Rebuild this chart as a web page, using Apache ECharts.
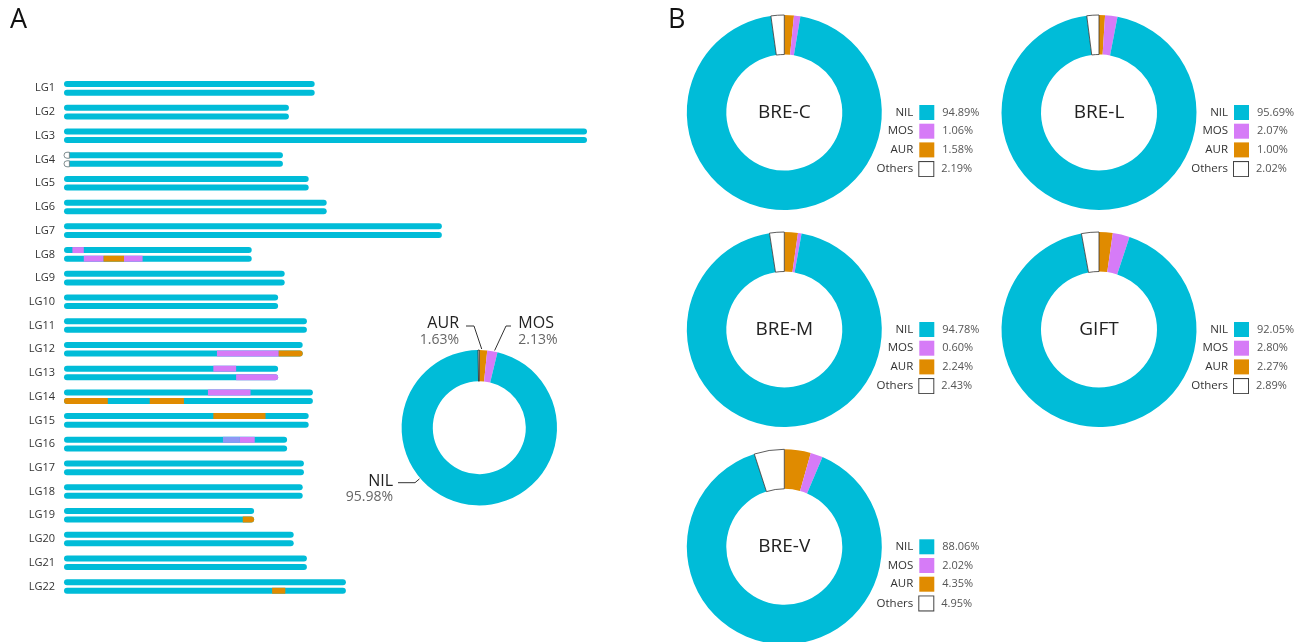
<!DOCTYPE html>
<html><head><meta charset="utf-8">
<script src="https://cdn.jsdelivr.net/npm/echarts@6/dist/echarts.min.js"></script>
<style>html,body{margin:0;padding:0;background:#fff}#c{width:1309px;height:642px}</style>
</head><body><div id="c"></div><script>
// ---------- data ----------
const lgNames = ['LG1','LG2','LG3','LG4','LG5','LG6','LG7','LG8','LG9','LG10','LG11','LG12','LG13','LG14','LG15','LG16','LG17','LG18','LG19','LG20','LG21','LG22'];
const lgLengths = [41.8,37.5,87.2,36.5,40.8,43.8,63.0,31.3,36.8,35.7,40.5,39.8,35.7,41.5,40.8,37.2,40.0,39.8,31.7,38.3,40.5,47.0];
// [linkage group, haplotype (0 top / 1 bottom), start Mb, end Mb, ancestry]
const segments = [
  ['LG4',0,0,0.9,'Others'],['LG4',1,0,0.9,'Others'],
  ['LG8',0,1.4,3.3,'MOS'],
  ['LG8',1,3.3,6.6,'MOS'],['LG8',1,6.6,10.0,'AUR'],['LG8',1,10.0,13.1,'MOS'],
  ['LG12',1,25.5,35.8,'MOS'],['LG12',1,35.8,39.8,'AUR'],
  ['LG13',0,24.9,28.7,'MOS'],['LG13',1,28.7,35.7,'MOS'],
  ['LG14',0,24.0,31.1,'MOS'],['LG14',1,0,7.3,'AUR'],['LG14',1,14.3,20.0,'AUR'],
  ['LG15',0,24.9,33.6,'AUR'],
  ['LG16',0,26.5,29.3,'MIX'],['LG16',0,29.3,31.8,'MOS'],
  ['LG19',1,29.8,31.7,'AUR'],
  ['LG22',1,34.7,36.9,'AUR']
];
const ancestryNames = ['NIL','MOS','AUR','Others'];
const overallPct = {NIL:95.98, MOS:2.13, AUR:1.63, Others:0.26};
const strainNames = ['BRE-C','BRE-L','BRE-M','GIFT','BRE-V'];
const nilPct    = [94.89, 95.69, 94.78, 92.05, 88.06];
const mosPct    = [1.06, 2.07, 0.60, 2.80, 2.02];
const aurPct    = [1.58, 1.00, 2.24, 2.27, 4.35];
const othersPct = [2.19, 2.02, 2.43, 2.89, 4.95];

// ---------- styles ----------
const FONT = '"Open Sans", "Noto Sans", sans-serif';
const colors = {NIL:'#00BCD8', MOS:'#D67BF7', AUR:'#E08B00', Others:'#FFFFFF', MIX:'#8E97F5'};
const typeList = ['NIL','MOS','AUR','Others','MIX'];
const pieCenters = [[784.3,112.5],[1099,112.5],[784.3,329.5],[1099,329.5],[784.3,546.8]];
const overallCenter = [479.3, 427.7];
const overallRadius = [46.5, 77.7];

// ---------- bars ----------
const barData = [];
lgNames.forEach((n, i) => { for (let h = 0; h < 2; h++) barData.push([0, lgLengths[i], i, h, 0, 1, 1]); });
segments.forEach(s => {
  const i = lgNames.indexOf(s[0]); const L = lgLengths[i];
  barData.push([s[2], s[3], i, s[1], typeList.indexOf(s[4]), s[2] <= 0.001 ? 1 : 0, s[3] >= L - 0.001 ? 1 : 0]);
});

const series = [{
  type: 'custom', silent: true, clip: false,
  xAxisIndex: 0, yAxisIndex: 0,
  encode: {x: [0, 1], y: 2},
  data: barData,
  renderItem: (params, api) => {
    const s = api.value(0), e = api.value(1), lg = api.value(2), hap = api.value(3), t = api.value(4);
    const p0 = api.coord([s, lg]), p1 = api.coord([e, lg]);
    const H = 6, R = 3;
    const cy = p0[1] + (hap === 0 ? -4.3 : 4.3);
    const rl = api.value(5) ? R : 0, rr = api.value(6) ? R : 0;
    const nm = typeList[t];
    return {type: 'rect',
      shape: {x: p0[0], y: cy - H/2, width: p1[0] - p0[0], height: H, r: [rl, rr, rr, rl]},
      style: {fill: colors[nm], stroke: nm === 'Others' ? '#777' : null, lineWidth: 0.8}};
  }
}];

// ---------- overall donut (panel A) ----------
const overallOrder = ['AUR','MOS','NIL','Others'];
const cx = overallCenter[0], cy = overallCenter[1];
// label placement relative to the donut centre
const labelPos = {
  AUR: {x: cx - 20.3, y: cy - 96.2, align: 'right', lineY: cy - 101.7, start: cx - 13.3, len2: 8, dir: 1},
  MOS: {x: cx + 39,   y: cy - 96.2, align: 'left',  lineY: cy - 101.7, start: cx + 31.7, len2: 5, dir: -1},
  NIL: {x: cx - 86.3, y: cy + 61.3, align: 'right', lineY: cy + 55,    start: cx - 81.3, len2: 17, dir: 1}
};
const overallTotal = overallOrder.reduce((a, n) => a + overallPct[n], 0);
function sliceRange(idx) {
  let before = 0;
  for (let i = 0; i < idx; i++) before += overallPct[overallOrder[i]];
  const a0 = 90 - 360 * before / overallTotal;
  const a1 = 90 - 360 * (before + overallPct[overallOrder[idx]]) / overallTotal;
  return [a1, a0];
}
series.push({
  type: 'pie', name: 'Overall', center: overallCenter, radius: overallRadius,
  startAngle: 90, clockwise: true, avoidLabelOverlap: false, silent: true,
  emphasis: {disabled: true},
  data: overallOrder.map(n => ({
    name: n, value: overallPct[n],
    itemStyle: n === 'Others' ? {color: '#fff', borderColor: '#222', borderWidth: 0.8} : {color: colors[n]},
    label: n === 'Others' ? {show: false} : undefined,
    labelLine: n === 'Others' ? {show: false} : {show: true}
  })),
  label: {
    show: true, position: 'outside',
    formatter: p => `{a|${p.name}}\n{b|${p.value.toFixed(2)}%}`,
    rich: {
      a: {fontSize: 16, color: '#222', fontFamily: FONT, lineHeight: 17},
      b: {fontSize: 14, color: '#666', fontFamily: FONT, lineHeight: 16}
    }
  },
  labelLine: {show: true, lineStyle: {color: '#333', width: 1}},
  labelLayout: p => {
    const n = overallOrder[p.dataIndex];
    const lp = labelPos[n];
    if (!lp) return {};
    const q1 = [lp.start + lp.dir * lp.len2, lp.lineY];
    let [a1, a0] = sliceRange(p.dataIndex);
    const span = a0 - a1;
    if (span < 60) { a1 += span * 0.3; a0 -= span * 0.3; }
    let ang = Math.atan2(cy - q1[1], q1[0] - cx) * 180 / Math.PI;
    while (ang < a1) ang += 360;
    while (ang > a1 + 360) ang -= 360;
    if (ang > a0) ang = (ang - a0 < a1 + 360 - ang) ? a0 : a1;
    const r = overallRadius[1] + 1;
    const q2 = [cx + r * Math.cos(ang * Math.PI / 180), cy - r * Math.sin(ang * Math.PI / 180)];
    return {x: lp.x, y: lp.y, align: lp.align, verticalAlign: 'middle',
            labelLinePoints: [q2, q1, [lp.start, lp.lineY]]};
  }
});

// ---------- strain donuts (panel B) ----------
const measureCtx = document.createElement('canvas').getContext('2d');
const NAME_SIZE = 11.5, NAME_BOX = 40;
measureCtx.font = NAME_SIZE + 'px "Open Sans"';
const nameRich = {};
ancestryNames.forEach(n => {
  const w = measureCtx.measureText(n).width;
  nameRich['n' + n] = {fontSize: NAME_SIZE, color: '#333', fontFamily: FONT, padding: [0, 0, 0, Math.max(0, NAME_BOX - w)]};
});
const legends = [];
strainNames.forEach((sn, k) => {
  const vals = {NIL: nilPct[k], MOS: mosPct[k], AUR: aurPct[k], Others: othersPct[k]};
  series.push({
    type: 'pie', name: sn, center: pieCenters[k], radius: [58, 97.5],
    startAngle: 90, clockwise: true, silent: true, emphasis: {disabled: true},
    label: {show: false}, labelLine: {show: false},
    data: ['AUR','MOS','NIL','Others'].map(n => ({
      name: n, value: vals[n],
      itemStyle: n === 'Others' ? {color: '#fff', borderColor: '#333', borderWidth: 0.8} : {color: colors[n]},
      label: n === 'NIL' ? {show: true, position: 'center', formatter: '{a}', fontSize: 19, color: '#222', fontFamily: FONT} : {show: false}
    }))
  });
  legends.push({
    orient: 'vertical', left: pieCenters[k][0] + 84, top: pieCenters[k][1] - 7.5,
    padding: 0, itemWidth: 0, itemHeight: 15, itemGap: 3.7, icon: 'none', selectedMode: false,
    data: ancestryNames.slice(),
    formatter: name => `{n${name}|${name}}{g1| }{s${name}| }{g2| }{p|${vals[name].toFixed(2)}%}`,
    textStyle: {
      fontFamily: FONT, fontSize: 11,
      rich: Object.assign({
        g1: {width: 6},
        sNIL: {width: 15, height: 15, backgroundColor: colors.NIL},
        sMOS: {width: 15, height: 15, backgroundColor: colors.MOS},
        sAUR: {width: 15, height: 15, backgroundColor: colors.AUR},
        sOthers: {width: 14, height: 14, backgroundColor: '#fff', borderColor: '#444', borderWidth: 1},
        g2: {width: 8},
        p: {fontSize: 11, color: '#555', fontFamily: FONT}
      }, nameRich)
    }
  });
});

const option = {
  animation: false,
  backgroundColor: '#fff',
  textStyle: {fontFamily: FONT},
  grid: {left: 64, top: 76.5, width: 523, height: 521.8, containLabel: false},
  xAxis: {type: 'value', min: 0, max: 87.2, show: false},
  yAxis: {
    type: 'category', data: lgNames, inverse: true,
    axisLine: {show: false}, axisTick: {show: false}, splitLine: {show: false},
    axisLabel: {fontSize: 11, color: '#333', margin: 9, fontFamily: FONT}
  },
  legend: legends,
  graphic: [
    {type: 'text', left: 10, top: 7, style: {text: 'A', fontSize: 27, fill: '#111', fontFamily: FONT}},
    {type: 'text', left: 668, top: 7, style: {text: 'B', fontSize: 27, fill: '#111', fontFamily: FONT}}
  ],
  series: series
};
const chart = echarts.init(document.getElementById('c'), null, {renderer: 'canvas'});
chart.setOption(option);
</script></body></html>
